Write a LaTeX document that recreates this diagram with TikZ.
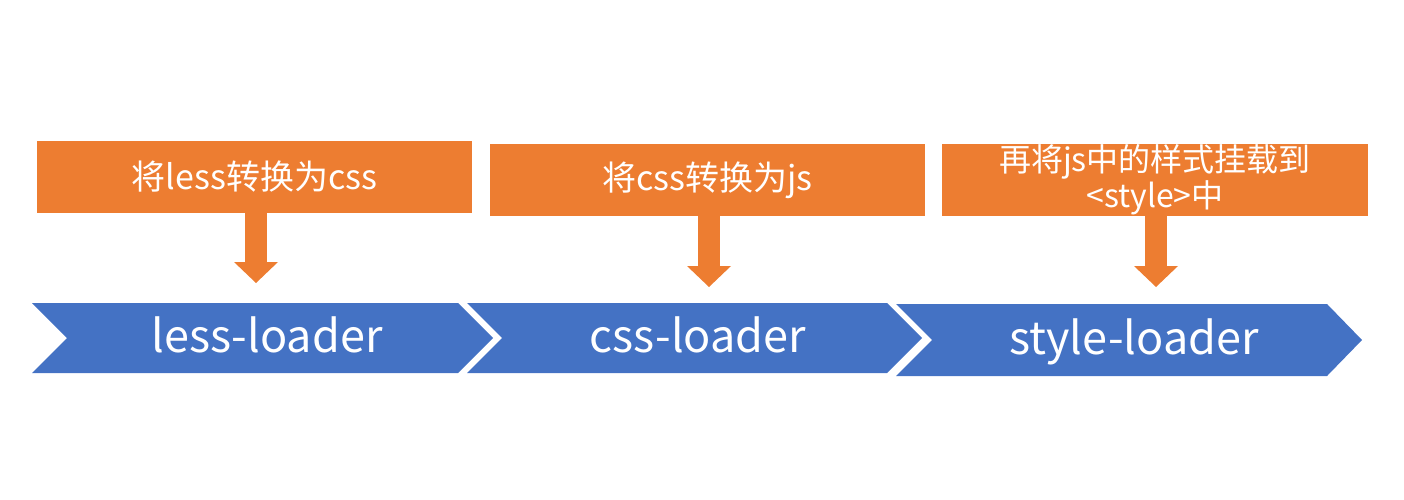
\documentclass[tikz,border=0pt]{standalone}
\usepackage{fontspec}
\setmainfont{Noto Sans CJK SC}
\usetikzlibrary{arrows.meta}
\definecolor{orng}{HTML}{ED7D31}
\definecolor{blu}{HTML}{4472C4}
\begin{document}
\begin{tikzpicture}[x=1pt,y=-1pt,
 obox/.style={fill=orng, text=white, minimum height=72pt, inner sep=0pt, font=\fontsize{34}{36}\selectfont, align=center},
 blk/.style={draw=orng, line width=22pt, -{Triangle[width=44pt,length=21pt,line width=0pt,fill=orng]}},
 chev/.style={fill=blu},
 lbl/.style={text=white, font=\fontsize{45}{50}\selectfont, anchor=base, inner sep=0pt}]
\useasboundingbox (0,0) rectangle (1404,500);
% orange boxes
\node[obox, minimum width=435pt] (b1) at (254.5,177) {将less转换为css};
\node[obox, minimum width=435pt] (b2) at (707.5,180) {将css转换为js};
\node[obox, minimum width=426pt, font=\fontsize{32}{36}\selectfont] (b3) at (1155,180) {再将js中的样式挂载到\\<style>中};
% chevrons
\fill[chev] (32,303) -- (458,303) -- (493,338) -- (458,373) -- (32,373) -- (67,338) -- cycle;
\fill[chev] (467,303) -- (887,303) -- (922,338) -- (887,373) -- (467,373) -- (502,338) -- cycle;
\fill[chev] (896,304) -- (1327,304) -- (1362,340) -- (1327,376) -- (896,376) -- (932,340) -- cycle;
\node[lbl] (l1) at (267,352) {less-loader};
\node[lbl] (l2) at (698,352) {css-loader};
\node[lbl] (l3) at (1134,354) {style-loader};
% arrows
\coordinate (t1) at (256,283);
\coordinate (t2) at (709,287);
\coordinate (t3) at (1156,287);
\draw[blk] (b1.south -| t1) -- (t1);
\draw[blk] (b2.south -| t2) -- (t2);
\draw[blk] (b3.south -| t3) -- (t3);
\end{tikzpicture}
\end{document}
